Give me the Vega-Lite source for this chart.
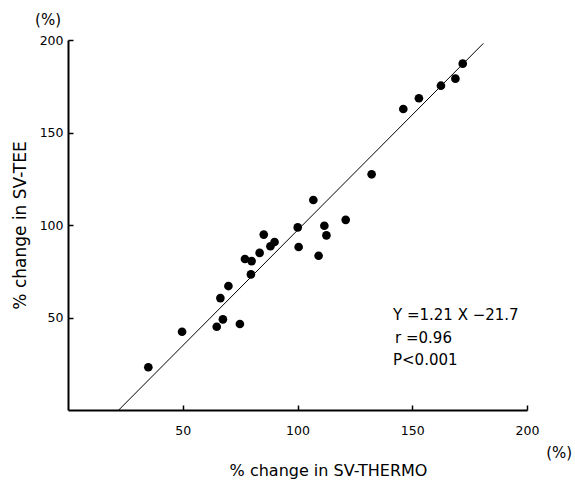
{
  "$schema": "https://vega.github.io/schema/vega-lite/v6.json",
  "width": 459,
  "height": 370,
  "autosize": {"type": "none"},
  "padding": {"left": 68, "top": 40, "right": 48, "bottom": 75},
  "background": "white",
  "config": {
    "view": {"stroke": null},
    "font": "DejaVu Sans",
    "axis": {"grid": false, "domainColor": "black", "domainWidth": 2, "tickColor": "black", "tickWidth": 1.5, "labelColor": "black", "titleColor": "black", "labelFontSize": 12.5, "titleFontSize": 17, "titleFontWeight": "normal", "labelFont": "DejaVu Sans", "titleFont": "DejaVu Sans", "labelFlush": false}
  },
  "datasets": {
    "pts": [
      {"x": 35.0, "y": 23.1}, {"x": 49.7, "y": 42.3}, {"x": 64.8, "y": 45.0}, {"x": 67.5, "y": 49.0},
      {"x": 74.9, "y": 46.5}, {"x": 66.4, "y": 60.5}, {"x": 69.9, "y": 67.0}, {"x": 79.7, "y": 73.3},
      {"x": 77.1, "y": 81.6}, {"x": 80.0, "y": 80.5}, {"x": 83.5, "y": 84.9}, {"x": 85.3, "y": 94.8},
      {"x": 88.2, "y": 88.5}, {"x": 90.0, "y": 90.8}, {"x": 100.1, "y": 98.7}, {"x": 100.5, "y": 88.1},
      {"x": 106.9, "y": 113.5}, {"x": 109.2, "y": 83.4}, {"x": 111.7, "y": 99.6}, {"x": 112.6, "y": 94.4},
      {"x": 121.0, "y": 102.8}, {"x": 132.3, "y": 127.4}, {"x": 146.1, "y": 162.7}, {"x": 152.9, "y": 168.5},
      {"x": 162.5, "y": 175.3}, {"x": 168.8, "y": 179.1}, {"x": 172.0, "y": 187.2}
    ],
    "fit": [{"x": 22.1, "y": 0}, {"x": 181.0, "y": 198.2}],
    "notes": [
      {"x": 141.6, "y": 51.4, "t": "Y =1.21 X −21.7"},
      {"x": 142.5, "y": 38.9, "t": "r =0.96"},
      {"x": 141.6, "y": 27.0, "t": "P<0.001"}
    ],
    "units": [
      {"x": -8.7, "y": 211.0, "t": "(%)"},
      {"x": 214.0, "y": -23.2, "t": "(%)"}
    ]
  },
  "layer": [
    {
      "data": {"name": "fit"},
      "mark": {"type": "line", "color": "black", "strokeWidth": 1},
      "encoding": {
        "x": {"field": "x", "type": "quantitative", "scale": {"domain": [0, 200], "nice": false, "zero": false},
              "axis": {"values": [50, 100, 150, 200], "title": "% change in SV-THERMO", "titleFontSize": 16, "titleX": 260, "tickSize": -5, "labelPadding": 19, "titlePadding": 26}},
        "y": {"field": "y", "type": "quantitative", "scale": {"domain": [0, 200], "nice": false, "zero": false},
              "axis": {"values": [50, 100, 150, 200], "title": "% change in SV-TEE", "tickSize": -5, "labelPadding": 10, "titlePadding": 10}}
      }
    },
    {
      "data": {"name": "pts"},
      "mark": {"type": "circle", "color": "black", "opacity": 1, "size": 75},
      "encoding": {
        "x": {"field": "x", "type": "quantitative"},
        "y": {"field": "y", "type": "quantitative"}
      }
    },
    {
      "data": {"name": "notes"},
      "mark": {"type": "text", "align": "left", "baseline": "middle", "fontSize": 15, "color": "black"},
      "encoding": {
        "x": {"field": "x", "type": "quantitative"},
        "y": {"field": "y", "type": "quantitative"},
        "text": {"field": "t"}
      }
    },
    {
      "data": {"name": "units"},
      "mark": {"type": "text", "align": "center", "baseline": "middle", "fontSize": 15, "color": "black"},
      "encoding": {
        "x": {"field": "x", "type": "quantitative"},
        "y": {"field": "y", "type": "quantitative"},
        "text": {"field": "t"}
      }
    }
  ]
}
